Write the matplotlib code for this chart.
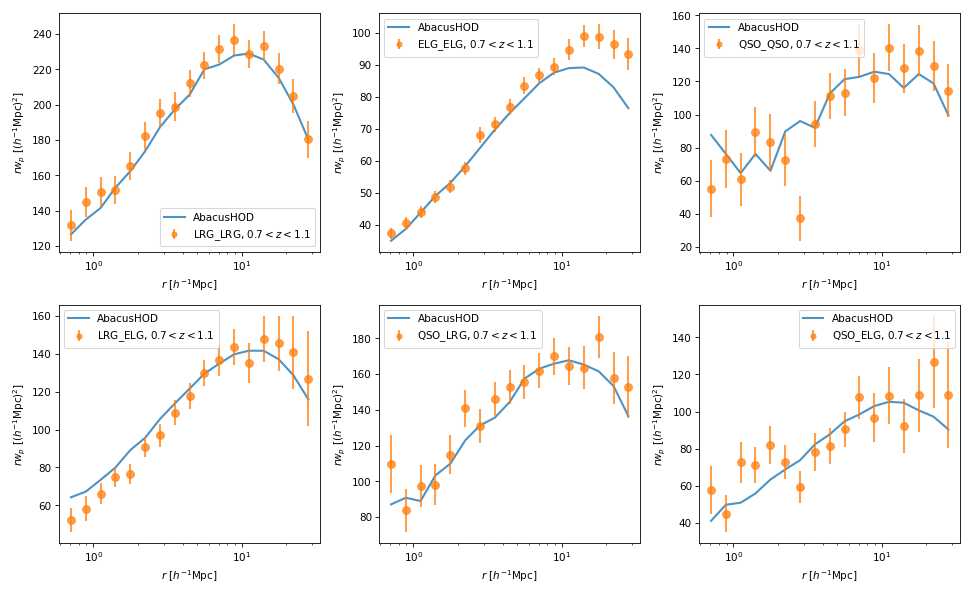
import matplotlib
matplotlib.use("Agg")
import matplotlib.pyplot as plt

r = [0.708, 0.891, 1.12, 1.41, 1.78, 2.24, 2.82, 3.55, 4.47, 5.62, 7.08, 8.91, 11.2, 14.1, 17.8, 22.4, 28.2]

names = ["LRG_LRG", "ELG_ELG", "QSO_QSO", "LRG_ELG", "QSO_LRG", "QSO_ELG"]

lrg_lrg_data = [131.7, 145.2, 150.5, 151.6, 165.4, 182.3, 195.3, 198.9, 212.1, 222.3, 231.5, 236.8, 228.5, 233.4, 220.4, 204.8, 180.3]
lrg_lrg_err = [8.7, 8.5, 8.3, 8.0, 8.0, 8.0, 8.0, 8.0, 7.5, 7.5, 8.0, 8.7, 8.0, 8.5, 8.8, 9.5, 10.4]
lrg_lrg_model = [126.6, 135.0, 141.5, 153.0, 162.4, 173.7, 187.3, 197.3, 205.7, 220.0, 222.7, 227.8, 228.9, 225.5, 215.2, 200.0, 180.3]

elg_elg_data = [37.3, 40.4, 44.0, 48.6, 51.9, 57.6, 68.0, 71.3, 76.8, 83.4, 86.7, 89.4, 94.6, 99.0, 98.7, 96.3, 93.4]
elg_elg_err = [1.8, 1.9, 2.0, 1.9, 2.0, 2.0, 2.5, 2.3, 2.6, 2.6, 2.3, 2.8, 3.3, 3.4, 3.9, 4.6, 5.0]
elg_elg_model = [35.0, 38.7, 43.8, 49.0, 53.1, 58.3, 64.0, 69.7, 74.9, 79.5, 84.2, 87.5, 88.9, 89.1, 87.1, 82.9, 76.4]

qso_qso_data = [55.3, 73.3, 60.8, 89.6, 83.3, 72.5, 37.2, 94.4, 111.3, 113.3, 139.1, 122.2, 140.5, 127.9, 138.7, 129.3, 114.5]
qso_qso_err = [17.2, 17.4, 16.0, 15.2, 17.2, 15.5, 13.5, 14.0, 14.0, 14.0, 15.5, 15.2, 14.0, 15.0, 15.5, 15.0, 16.0]
qso_qso_model = [87.7, 76.2, 64.6, 76.2, 66.0, 89.8, 96.1, 92.0, 112.7, 121.4, 122.8, 125.9, 124.5, 116.1, 124.5, 118.8, 99.5]

lrg_elg_data = [52.1, 58.2, 66.2, 74.9, 76.5, 90.9, 96.9, 109.0, 117.8, 130.0, 136.6, 143.7, 135.2, 148.0, 145.7, 140.8, 127.0]
lrg_elg_err = [6.3, 6.5, 5.5, 5.3, 5.3, 5.3, 6.3, 6.5, 7.1, 6.9, 8.0, 9.7, 10.5, 12.0, 14.5, 19.5, 25.0]
lrg_elg_model = [64.2, 67.2, 73.4, 79.9, 89.2, 95.7, 105.6, 113.8, 121.7, 129.6, 134.9, 139.8, 141.7, 141.7, 137.2, 128.7, 116.0]

qso_lrg_data = [109.9, 83.7, 97.4, 98.1, 114.9, 140.9, 131.0, 146.2, 152.6, 155.6, 161.9, 169.9, 164.5, 163.4, 180.7, 157.8, 152.8]
qso_lrg_err = [16.2, 12.1, 11.8, 11.4, 10.9, 10.4, 9.6, 9.5, 9.6, 9.3, 9.9, 10.3, 10.4, 12.0, 12.0, 14.5, 17.2]
qso_lrg_model = [87.1, 90.8, 89.0, 103.3, 109.9, 122.9, 131.3, 135.6, 144.4, 157.4, 163.0, 165.8, 167.7, 165.3, 161.5, 153.3, 136.5]

qso_elg_data = [58.1, 45.2, 72.8, 71.4, 82.0, 72.8, 59.4, 78.4, 81.5, 90.4, 107.7, 96.7, 108.6, 92.2, 108.9, 126.7, 108.9]
qso_elg_err = [12.9, 10.0, 11.0, 9.6, 10.1, 9.2, 8.5, 10.1, 9.6, 9.2, 11.5, 13.2, 15.3, 14.6, 19.6, 25.0, 28.5]
qso_elg_model = [41.3, 49.9, 51.0, 56.0, 63.5, 68.9, 73.9, 82.4, 87.8, 94.8, 98.5, 103.0, 105.3, 104.8, 100.7, 97.3, 90.4]

datas = [lrg_lrg_data, elg_elg_data, qso_qso_data, lrg_elg_data, qso_lrg_data, qso_elg_data]
errs = [lrg_lrg_err, elg_elg_err, qso_qso_err, lrg_elg_err, qso_lrg_err, qso_elg_err]
models = [lrg_lrg_model, elg_elg_model, qso_qso_model, lrg_elg_model, qso_lrg_model, qso_elg_model]
legend_locs = ["lower right", "upper left", "upper left", "upper left", "upper left", "upper right"]

DPI = 969 / 13.0
fig, axes = plt.subplots(2, 3, figsize=(13, 8), dpi=DPI)
fig.subplots_adjust(left=0.061, right=0.991, top=0.977, bottom=0.089, wspace=0.226, hspace=0.223)

for ax, name, d, e, m, loc in zip(axes.flat, names, datas, errs, models, legend_locs):
    ax.plot(r, m, color="C0", alpha=0.8, lw=2.0, label="AbacusHOD")
    ax.errorbar(r, d, yerr=e, fmt="o", color="C1", alpha=0.75, ms=7.5, elinewidth=2.0,
                label=name + r", $0.7 < z < 1.1$")
    ax.set_xscale("log")
    ax.set_xlabel(r"$r\ [h^{-1}\mathrm{Mpc}]$")
    ax.set_ylabel(r"$rw_p\ [(h^{-1}\mathrm{Mpc})^2]$")
    ax.legend(loc=loc, markerscale=0.65)

fig.savefig("out.png", dpi=DPI)
